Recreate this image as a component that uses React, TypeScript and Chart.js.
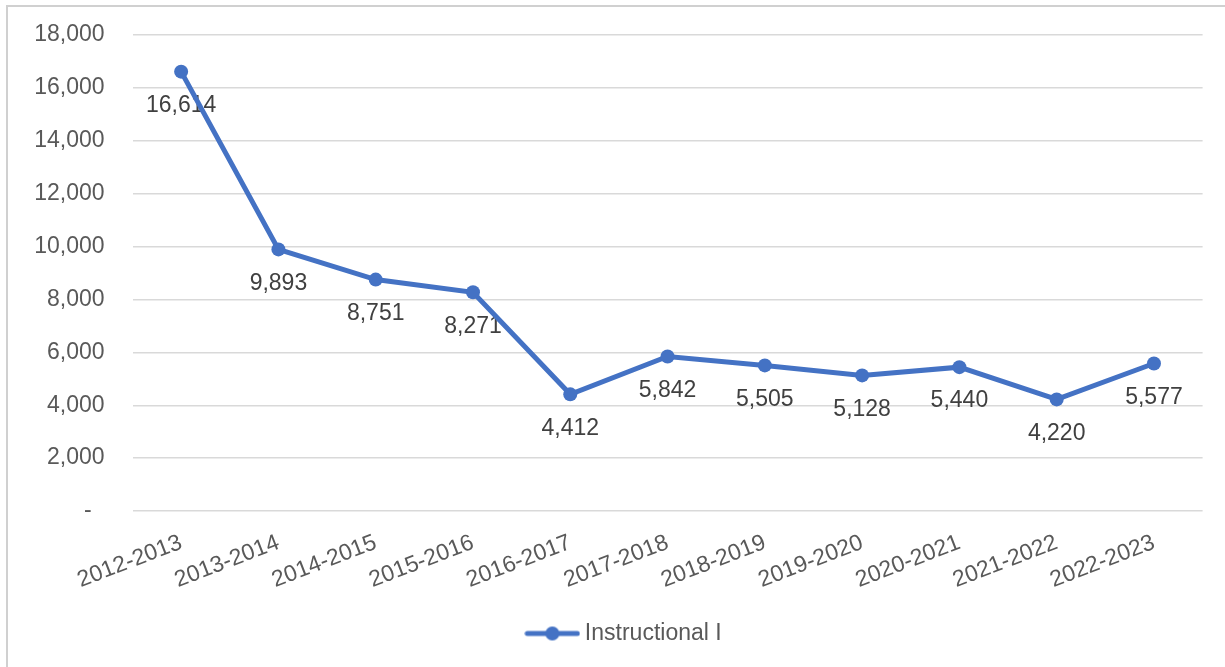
import React, { useEffect, useRef } from "react";
import { Chart, registerables } from "chart.js";

Chart.register(...registerables);

// School years on the category axis
const schoolYears = [
  "2012-2013",
  "2013-2014",
  "2014-2015",
  "2015-2016",
  "2016-2017",
  "2017-2018",
  "2018-2019",
  "2019-2020",
  "2020-2021",
  "2021-2022",
  "2022-2023",
];

// Instructional I certificate counts per school year
const instructionalI = [16614, 9893, 8751, 8271, 4412, 5842, 5505, 5128, 5440, 4220, 5577];

const seriesName = "Instructional I";

// Value axis range
const yMin = 0;
const yMax = 18000;
const yStep = 2000;

const FONT = "'Liberation Sans', Arial, Helvetica, sans-serif";
const BLUE = "#4472C4";
const TICK_COLOR = "#595959";
const LABEL_COLOR = "#404040";
const GRID_COLOR = "#d9d9d9";
const FRAME_COLOR = "#d0d0d0";
const FONT_SIZE = 23;

const formatNumber = (v: number) => v.toLocaleString("en-US");

// Data labels drawn under each point (painted before the line so the line sits on top)
const valueLabels = {
  id: "valueLabels",
  beforeDatasetsDraw(chart: any) {
    const ctx = chart.ctx as CanvasRenderingContext2D;
    const meta = chart.getDatasetMeta(0);
    const values = chart.data.datasets[0].data as number[];
    ctx.save();
    ctx.font = `${FONT_SIZE}px ${FONT}`;
    ctx.fillStyle = LABEL_COLOR;
    ctx.textAlign = "center";
    ctx.textBaseline = "middle";
    meta.data.forEach((pt: any, i: number) => {
      ctx.fillText(formatNumber(values[i]), pt.x, pt.y + 34);
    });
    ctx.restore();
  },
};

// Legend marker: a short line with a dot in the middle
function makeLegendMarker(): HTMLCanvasElement {
  const c = document.createElement("canvas");
  c.width = 56;
  c.height = 16;
  const g = c.getContext("2d")!;
  g.strokeStyle = BLUE;
  g.lineWidth = 5;
  g.lineCap = "round";
  g.beginPath();
  g.moveTo(3, 8);
  g.lineTo(53, 8);
  g.stroke();
  g.fillStyle = BLUE;
  g.beginPath();
  g.arc(28, 8, 7, 0, Math.PI * 2);
  g.fill();
  return c;
}

export default function App() {
  const canvasRef = useRef<HTMLCanvasElement | null>(null);

  useEffect(() => {
    const canvas = canvasRef.current;
    if (!canvas) return;
    const chart = new Chart(canvas, {
      type: "line",
      data: {
        labels: schoolYears,
        datasets: [
          {
            label: seriesName,
            data: instructionalI,
            yAxisID: "y",
            borderColor: BLUE,
            backgroundColor: BLUE,
            borderWidth: 5,
            pointRadius: 7,
            pointHoverRadius: 7,
            pointBackgroundColor: BLUE,
            pointBorderColor: BLUE,
            pointBorderWidth: 0,
            tension: 0,
            fill: false,
            clip: false as any,
          },
        ],
      },
      options: {
        responsive: false,
        animation: false,
        devicePixelRatio: 1,
        layout: {
          padding: { left: 0, right: 0, top: 28, bottom: 12 },
        },
        scales: {
          x: {
            offset: true,
            grid: { display: false },
            border: { display: false },
            ticks: {
              autoSkip: false,
              minRotation: 21,
              maxRotation: 21,
              color: TICK_COLOR,
              font: { family: FONT, size: FONT_SIZE },
              padding: 10,
            },
            afterFit(scale: any) {
              scale.height = 101;
            },
          },
          y: {
            min: yMin,
            max: yMax,
            grid: { color: GRID_COLOR, lineWidth: 1.4, drawTicks: false },
            border: { display: false },
            ticks: {
              stepSize: yStep,
              padding: 28,
              color: TICK_COLOR,
              font: { family: FONT, size: FONT_SIZE },
              callback: (v: any) => (Number(v) === 0 ? "-  " : formatNumber(Number(v))),
            },
            afterFit(scale: any) {
              scale.width = 124.5;
              // the top/bottom inset comes from layout padding alone
              scale.paddingTop = 0;
              scale.paddingBottom = 0;
            },
          },
          // Empty right-hand margin axis (keeps the plot inset on the right)
          yMargin: {
            position: "right",
            min: yMin,
            max: yMax,
            grid: { display: false },
            border: { display: false },
            ticks: { display: false },
            afterFit(scale: any) {
              scale.width = 42.4;
            },
          },
        },
        plugins: {
          tooltip: { enabled: false },
          legend: {
            position: "bottom",
            labels: {
              usePointStyle: true,
              pointStyle: makeLegendMarker() as any,
              pointStyleWidth: 42,
              color: TICK_COLOR,
              font: { family: FONT, size: FONT_SIZE },
              padding: 10,
            },
          },
        },
      },
      plugins: [valueLabels],
    });
    return () => chart.destroy();
  }, []);

  return (
    <div
      style={{
        position: "fixed",
        left: 6,
        top: 5,
        width: 1219,
        height: 662,
        boxSizing: "border-box",
        overflow: "hidden",
        borderLeft: `2px solid ${FRAME_COLOR}`,
        borderTop: `2px solid ${FRAME_COLOR}`,
        background: "#fff",
      }}
    >
      <canvas ref={canvasRef} width={1237} height={660} style={{ display: "block" }} />
    </div>
  );
}
